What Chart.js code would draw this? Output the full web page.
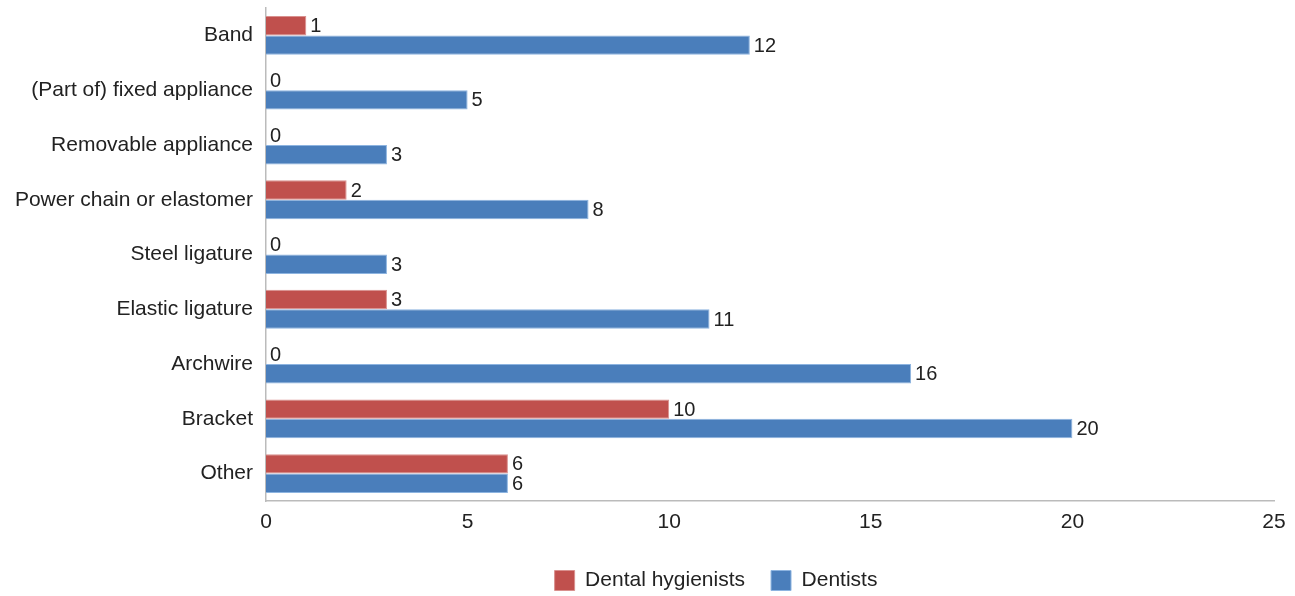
<!DOCTYPE html>
<html>
<head>
<meta charset="utf-8">
<script src="https://cdn.jsdelivr.net/npm/chart.js@4/dist/chart.umd.min.js"></script>
<style>
  html, body { margin: 0; padding: 0; background: #ffffff; }
  #wrap { width: 1295px; height: 596px; position: relative; }
</style>
</head>
<body>
<div id="wrap"><canvas id="chart" width="1295" height="596"></canvas></div>
<script>
// Reported item types, top to bottom
const categories = [
  'Band',
  '(Part of) fixed appliance',
  'Removable appliance',
  'Power chain or elastomer',
  'Steel ligature',
  'Elastic ligature',
  'Archwire',
  'Bracket',
  'Other'
];
const hygienists = [1, 0, 0, 2, 0, 3, 0, 10, 6];
const dentists   = [12, 5, 3, 8, 3, 11, 16, 20, 6];
const xTicks = [0, 5, 10, 15, 20, 25];

const FONT = '"Liberation Sans", Arial, Helvetica, sans-serif';
const TEXT = '#222222';

// Writes each bar's value just past its end
const valueLabels = {
  id: 'valueLabels',
  afterDatasetsDraw(chart) {
    const ctx = chart.ctx;
    ctx.save();
    ctx.font = '20px ' + FONT;
    ctx.fillStyle = TEXT;
    ctx.textAlign = 'left';
    ctx.textBaseline = 'middle';
    chart.data.datasets.forEach((ds, i) => {
      const meta = chart.getDatasetMeta(i);
      meta.data.forEach((bar, j) => {
        ctx.fillText(String(ds.data[j]), bar.x + 4, bar.y + 1);
      });
    });
    ctx.restore();
  }
};

// Moves the legend row a little right of the canvas centre
const legendShift = {
  id: 'legendShift',
  afterLayout(chart) {
    const lg = chart.legend;
    if (lg) {
      lg.left += 79;
      lg.right += 79;
    }
  }
};

new Chart(document.getElementById('chart'), {
  type: 'bar',
  data: {
    labels: categories,
    datasets: [
      {
        label: 'Dental hygienists',
        data: hygienists,
        backgroundColor: '#C0504D',
        borderColor: '#D9908E',
        borderWidth: 1,
        categoryPercentage: 0.71,
        barPercentage: 1.0
      },
      {
        label: 'Dentists',
        data: dentists,
        backgroundColor: '#4A7EBB',
        borderColor: '#8DB4E0',
        borderWidth: 1,
        categoryPercentage: 0.71,
        barPercentage: 1.0
      }
    ]
  },
  options: {
    indexAxis: 'y',
    responsive: false,
    animation: false,
    layout: { padding: { left: 0, right: 21, top: 8, bottom: 0 } },
    plugins: {
      legend: {
        position: 'bottom',
        maxHeight: 52,
        labels: {
          boxWidth: 20,
          boxHeight: 20,
          padding: 26,
          color: TEXT,
          font: { family: FONT, size: 21 }
        }
      },
      tooltip: { enabled: false }
    },
    scales: {
      x: {
        min: 0,
        max: 25,
        afterBuildTicks(scale) { scale.ticks = xTicks.map(v => ({ value: v })); },
        grid: { display: false, drawTicks: false },
        border: { display: true, color: '#BBBBBB', width: 1.5 },
        ticks: {
          color: TEXT,
          padding: 9,
          font: { family: FONT, size: 21 }
        },
        afterFit(scale) { scale.height = 43; }
      },
      y: {
        grid: { display: false, drawTicks: false },
        border: { display: true, color: '#BBBBBB', width: 1.5 },
        ticks: {
          color: TEXT,
          padding: 13,
          font: { family: FONT, size: 21 }
        },
        afterFit(scale) {
          scale.width = 266;
          scale.paddingTop = 0;
          scale.paddingBottom = 0;
        }
      }
    }
  },
  plugins: [valueLabels, legendShift]
});
</script>
</body>
</html>
